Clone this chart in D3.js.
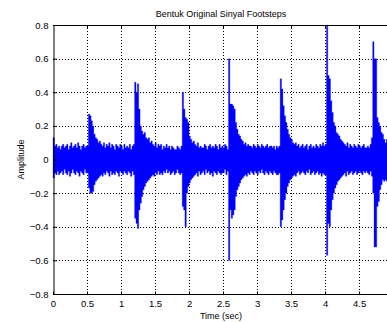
<!DOCTYPE html>
<html>
<head>
<meta charset="utf-8">
<script src="https://cdn.jsdelivr.net/npm/d3@7"></script>
<style>
  body { margin: 0; background: #fff; }
  svg { display: block; font-family: "Liberation Sans", Arial, sans-serif; }
</style>
</head>
<body>
<div class="chart"></div>
<script>
// envelope of the footsteps signal, one max/min pair per 0.02 s
const sampleStep = 0.02;
const signalEnd = 4.94;
const upper = [
  0.13, 0.08, 0.09, 0.07, 0.08,  0.06, 0.08, 0.09, 0.07, 0.08,
  0.09, 0.06, 0.08, 0.10, 0.07,  0.08, 0.09, 0.07, 0.10, 0.08,
  0.06, 0.08, 0.09, 0.07, 0.08,  0.08, 0.27, 0.26, 0.23, 0.20,
  0.15, 0.13, 0.12, 0.10, 0.11,  0.09, 0.08, 0.10, 0.07, 0.09,
  0.08, 0.10, 0.07, 0.09, 0.08,  0.06, 0.09, 0.08, 0.07, 0.09,
  0.08, 0.06, 0.09, 0.07, 0.08,  0.07, 0.09, 0.06, 0.08, 0.09,
  0.46, 0.40, 0.45, 0.30, 0.20,  0.17, 0.15, 0.16, 0.13, 0.12,
  0.13, 0.10, 0.11, 0.09, 0.08,  0.10, 0.07, 0.09, 0.08, 0.09,
  0.06, 0.08, 0.07, 0.09, 0.07,  0.08, 0.06, 0.08, 0.07, 0.06,
  0.06, 0.08, 0.07, 0.06, 0.08,  0.40, 0.30, 0.25, 0.24, 0.22,
  0.14, 0.12, 0.10, 0.11, 0.09,  0.08, 0.10, 0.07, 0.08, 0.07,
  0.07, 0.09, 0.08, 0.06, 0.08,  0.09, 0.07, 0.08, 0.07, 0.09,
  0.08, 0.06, 0.09, 0.07, 0.08,  0.07, 0.09, 0.08, 0.06, 0.60,
  0.33, 0.33, 0.32, 0.30, 0.22,  0.18, 0.15, 0.14, 0.12, 0.11,
  0.09, 0.10, 0.08, 0.09, 0.08,  0.08, 0.07, 0.09, 0.08, 0.07,
  0.09, 0.08, 0.07, 0.09, 0.08,  0.07, 0.08, 0.09, 0.07, 0.08,
  0.08, 0.07, 0.08, 0.06, 0.08,  0.07, 0.08, 0.48, 0.42, 0.32,
  0.26, 0.22, 0.18, 0.15, 0.13,  0.12, 0.10, 0.09, 0.10, 0.08,
  0.09, 0.07, 0.08, 0.09, 0.07,  0.08, 0.09, 0.06, 0.08, 0.09,
  0.07, 0.08, 0.07, 0.09, 0.08,  0.07, 0.09, 0.08, 0.10, 0.08,
  0.09, 0.80, 0.50, 0.48, 0.35,  0.28, 0.22, 0.20, 0.16, 0.15,
  0.14, 0.12, 0.11, 0.10, 0.09,  0.08, 0.10, 0.07, 0.09, 0.08,
  0.07, 0.09, 0.08, 0.07, 0.09,  0.08, 0.07, 0.08, 0.09, 0.07,
  0.07, 0.08, 0.07, 0.09, 0.13,  0.70, 0.60, 0.60, 0.25, 0.22,
  0.20, 0.16, 0.15, 0.12, 0.10,  0.12, 0.13, 0.12
];
const lower = [
  -0.11, -0.08, -0.09, -0.07, -0.09,  -0.08, -0.07, -0.09, -0.06, -0.08,
  -0.09, -0.07, -0.10, -0.08, -0.06,  -0.08, -0.09, -0.07, -0.08, -0.10,
  -0.07, -0.08, -0.09, -0.06, -0.08,  -0.08, -0.17, -0.20, -0.20, -0.19,
  -0.15, -0.13, -0.12, -0.11, -0.10,  -0.09, -0.10, -0.08, -0.09, -0.07,
  -0.08, -0.10, -0.07, -0.09, -0.08,  -0.09, -0.07, -0.08, -0.10, -0.07,
  -0.08, -0.09, -0.07, -0.08, -0.09,  -0.07, -0.08, -0.10, -0.07, -0.09,
  -0.35, -0.38, -0.41, -0.30, -0.26,  -0.22, -0.18, -0.16, -0.14, -0.13,
  -0.12, -0.11, -0.10, -0.09, -0.10,  -0.08, -0.09, -0.07, -0.09, -0.08,
  -0.09, -0.07, -0.08, -0.06, -0.08,  -0.07, -0.09, -0.08, -0.07, -0.09,
  -0.08, -0.06, -0.08, -0.09, -0.08,  -0.28, -0.30, -0.40, -0.20, -0.16,
  -0.14, -0.12, -0.11, -0.10, -0.09,  -0.08, -0.10, -0.07, -0.09, -0.08,
  -0.07, -0.09, -0.06, -0.08, -0.07,  -0.09, -0.08, -0.10, -0.07, -0.08,
  -0.09, -0.07, -0.08, -0.09, -0.08,  -0.08, -0.06, -0.09, -0.07, -0.60,
  -0.30, -0.35, -0.33, -0.30, -0.22,  -0.18, -0.16, -0.14, -0.12, -0.11,
  -0.10, -0.09, -0.10, -0.08, -0.09,  -0.07, -0.08, -0.09, -0.07, -0.08,
  -0.09, -0.07, -0.08, -0.06, -0.08,  -0.09, -0.07, -0.08, -0.09, -0.07,
  -0.08, -0.09, -0.07, -0.08, -0.09,  -0.09, -0.08, -0.40, -0.36, -0.30,
  -0.24, -0.20, -0.16, -0.14, -0.12,  -0.11, -0.10, -0.09, -0.10, -0.08,
  -0.07, -0.09, -0.08, -0.07, -0.08,  -0.09, -0.07, -0.08, -0.06, -0.09,
  -0.08, -0.07, -0.09, -0.08, -0.07,  -0.09, -0.08, -0.10, -0.08, -0.09,
  -0.09, -0.57, -0.38, -0.40, -0.30,  -0.24, -0.20, -0.17, -0.15, -0.13,
  -0.12, -0.11, -0.10, -0.09, -0.08,  -0.10, -0.07, -0.09, -0.08, -0.07,
  -0.09, -0.08, -0.07, -0.09, -0.08,  -0.07, -0.08, -0.09, -0.07, -0.08,
  -0.07, -0.08, -0.09, -0.07, -0.10,  -0.20, -0.52, -0.52, -0.28, -0.25,
  -0.18, -0.15, -0.12, -0.13, -0.12,  -0.13, -0.12, -0.13
];
const xTicks = [0, 0.5, 1, 1.5, 2, 2.5, 3, 3.5, 4, 4.5];
const yTicks = [-0.8, -0.6, -0.4, -0.2, 0, 0.2, 0.4, 0.6, 0.8];

const W = 387, H = 322;
const margin = { top: 25, right: -2, bottom: 28, left: 53 };

const svg = d3.select(".chart").append("svg")
  .attr("width", W)
  .attr("height", H);

const x = d3.scaleLinear()
  .domain([0, signalEnd])
  .range([margin.left, W - margin.right]);
const y = d3.scaleLinear()
  .domain([-0.8, 0.8])
  .range([H - margin.bottom, margin.top]);

const samples = upper.map(function (u, i) {
  return { t: i * sampleStep, hi: u, lo: lower[i] };
});

// grid
svg.append("g").selectAll("line.vg")
  .data(xTicks.slice(1))
  .enter().append("line")
  .attr("x1", d => Math.round(x(d)) + 0.5).attr("x2", d => Math.round(x(d)) + 0.5)
  .attr("y1", y(0.8)).attr("y2", y(-0.8))
  .attr("stroke", "#000").attr("stroke-dasharray", "1,2");
svg.append("g").selectAll("line.hg")
  .data(yTicks.slice(1, -1))
  .enter().append("line")
  .attr("y1", d => Math.round(y(d)) + 0.5).attr("y2", d => Math.round(y(d)) + 0.5)
  .attr("x1", x(0)).attr("x2", W)
  .attr("stroke", "#000").attr("stroke-dasharray", "1,2");

// waveform
const band = d3.area()
  .x(d => x(d.t))
  .y0(d => y(d.lo))
  .y1(d => y(d.hi))
  .curve(d3.curveStepAfter);
svg.append("path")
  .datum(samples)
  .attr("d", band)
  .attr("fill", "#0000ff")
  .attr("stroke", "#0000ff")
  .attr("stroke-width", 0.3);

// axes
const xAxis = svg.append("g")
  .attr("transform", "translate(0," + (Math.round(y(-0.8)) + 0.5) + ")")
  .call(d3.axisBottom(x).tickValues(xTicks).tickSize(-3).tickPadding(6).tickFormat(d3.format("")));
const yAxis = svg.append("g")
  .attr("transform", "translate(" + (Math.round(x(0)) + 0.5) + ",0)")
  .call(d3.axisLeft(y).tickValues(yTicks).tickSize(-3).tickPadding(5).tickFormat(d3.format("")));
[xAxis, yAxis].forEach(function (a) {
  a.select(".domain").attr("stroke", "#000");
  a.selectAll("text").style("font-size", "9.5px").attr("fill", "#000")
    .style("font-family", "'Liberation Sans', Arial, sans-serif");
});
xAxis.select(".domain").attr("d", "M" + x(0) + ",0H" + W);
svg.append("line")
  .attr("x1", x(0)).attr("x2", W)
  .attr("y1", Math.round(y(0.8)) + 0.5).attr("y2", Math.round(y(0.8)) + 0.5)
  .attr("stroke", "#000");
svg.selectAll(".toptick")
  .data(xTicks.slice(1))
  .enter().append("line")
  .attr("x1", d => Math.round(x(d)) + 0.5).attr("x2", d => Math.round(x(d)) + 0.5)
  .attr("y1", y(0.8)).attr("y2", y(0.8) + 3)
  .attr("stroke", "#000");

// labels
svg.append("text")
  .attr("x", 221).attr("y", 17)
  .attr("text-anchor", "middle")
  .style("font-size", "9px")
  .text("Bentuk Original Sinyal Footsteps");
svg.append("text")
  .attr("x", 221).attr("y", 319)
  .attr("text-anchor", "middle")
  .style("font-size", "9px")
  .text("Time (sec)");
svg.append("text")
  .attr("transform", "translate(24," + y(0) + ") rotate(-90)")
  .attr("text-anchor", "middle")
  .style("font-size", "9px")
  .text("Amplitude");
</script>
</body>
</html>
